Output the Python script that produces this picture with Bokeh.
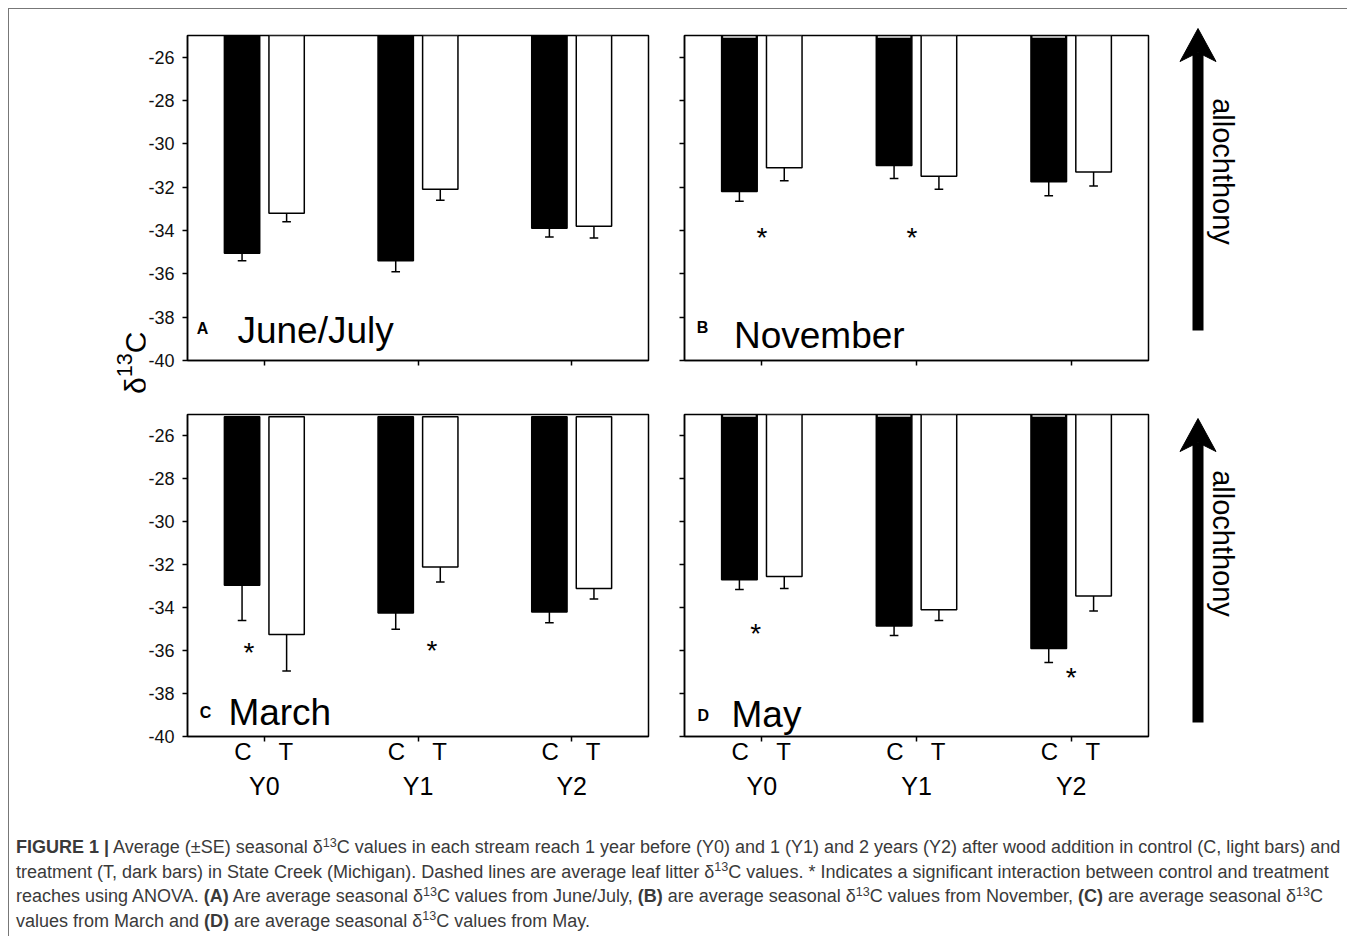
import numpy as np
from math import pi
from bokeh.plotting import figure
from bokeh.models import Range1d, LinearAxis, FixedTicker, Div
from bokeh.layouts import row, column
from bokeh.embed import file_html
from bokeh.resources import INLINE
from bokeh.core.properties import value

# ---------------- data ----------------
years = ["Y0", "Y1", "Y2"]
groups = ["C", "T"]
y_ticks = [-26, -28, -30, -32, -34, -36, -38, -40]

june_c = [-35.05, -35.4, -33.9]
june_c_se = [0.35, 0.5, 0.4]
june_t = [-33.2, -32.1, -33.8]
june_t_se = [0.4, 0.5, 0.55]

nov_c = [-32.2, -31.0, -31.75]
nov_c_se = [0.45, 0.6, 0.65]
nov_t = [-31.1, -31.5, -31.3]
nov_t_se = [0.6, 0.6, 0.65]

mar_c = [-32.95, -34.25, -34.2]
mar_c_se = [1.65, 0.75, 0.5]
mar_t = [-35.25, -32.1, -33.1]
mar_t_se = [1.7, 0.7, 0.5]

may_c = [-32.7, -34.85, -35.9]
may_c_se = [0.45, 0.45, 0.65]
may_t = [-32.55, -34.1, -33.45]
may_t_se = [0.55, 0.5, 0.7]

# significance asterisks (x position in year units, y value)
nov_star_x = [0.0, 0.97]
nov_star_y = [-34.3, -34.3]
mar_star_x = [-0.1, 1.09]
mar_star_y = [-36.1, -36.0]
may_star_x = [-0.04, 2.0]
may_star_y = [-35.2, -37.25]

FONT = "Liberation Sans"
OFF = 0.145
LBL_OFF = 0.14
BW = 0.23
CAP = 0.028


def make_panel(W, H, ml, mr, mt, mb, c_vals, c_se, t_vals, t_se,
               stars_x, stars_y, letter, letter_xy, month, month_xy,
               show_ylabels, show_xlabels, bar_top=-25.0, gray_top=False):
    p = figure(width=W, height=H, x_range=Range1d(-0.5, 2.5), y_range=Range1d(-40, -25),
               x_axis_type=None, y_axis_type=None, toolbar_location=None,
               output_backend="svg", min_border_left=ml, min_border_right=mr,
               min_border_top=mt, min_border_bottom=mb)
    p.outline_line_color = "black"
    p.outline_line_width = 1.5
    p.outline_line_alpha = 1.0
    p.background_fill_color = "white"
    p.border_fill_color = "white"

    # y axis
    yax = LinearAxis(ticker=FixedTicker(ticks=y_ticks))
    yax.axis_line_width = 1.5
    yax.major_tick_line_width = 1.5
    yax.major_tick_out = 5
    yax.major_tick_in = 0
    yax.minor_tick_line_color = None
    if show_ylabels:
        yax.major_label_overrides = {t: str(t) for t in y_ticks}
        yax.major_label_text_font = FONT
        yax.major_label_text_font_size = "18px"
        yax.major_label_text_color = "#111111"
        yax.major_label_standoff = 8
    else:
        yax.major_label_overrides = {t: "" for t in y_ticks}
        yax.major_label_text_font_size = "0px"
        yax.major_label_standoff = 0
    p.add_layout(yax, "left")

    # x axis (group ticks only)
    xax = LinearAxis(ticker=FixedTicker(ticks=[0, 1, 2]))
    xax.axis_line_width = 1.5
    xax.major_tick_line_width = 1.5
    xax.major_tick_out = 5
    xax.major_tick_in = 0
    xax.minor_tick_line_color = None
    xax.major_label_overrides = {0: "", 1: "", 2: ""}
    xax.major_label_text_font_size = "0px"
    xax.major_label_standoff = 0
    p.add_layout(xax, "below")

    if show_xlabels:
        pos = []
        ov = {}
        for i in range(len(years)):
            for g, s in zip(groups, (-LBL_OFF, LBL_OFF)):
                v = i + s
                pos.append(v)
                ov[v] = g
        ax2 = LinearAxis(ticker=FixedTicker(ticks=pos))
        ax2.major_label_overrides = ov
        ax2.axis_line_color = None
        ax2.major_tick_line_color = None
        ax2.minor_tick_line_color = None
        ax2.major_tick_out = 0
        ax2.major_tick_in = 0
        ax2.major_label_standoff = -4
        ax2.major_label_text_font = FONT
        ax2.major_label_text_font_size = "24px"
        ax2.major_label_text_color = "black"
        p.add_layout(ax2, "below")

        ax3 = LinearAxis(ticker=FixedTicker(ticks=[0, 1, 2]))
        ax3.major_label_overrides = {i: y for i, y in enumerate(years)}
        ax3.axis_line_color = None
        ax3.major_tick_line_color = None
        ax3.minor_tick_line_color = None
        ax3.major_tick_out = 0
        ax3.major_tick_in = 0
        ax3.major_label_standoff = 4
        ax3.major_label_text_font = FONT
        ax3.major_label_text_font_size = "25px"
        ax3.major_label_text_color = "black"
        p.add_layout(ax3, "below")

    xi = np.arange(len(years))
    xc = xi - OFF
    xt = xi + OFF
    c_vals = np.array(c_vals)
    t_vals = np.array(t_vals)
    c_lo = c_vals - np.array(c_se)
    t_lo = t_vals - np.array(t_se)

    # control bars (black) and treatment bars (white)
    p.vbar(x=xc, top=bar_top, bottom=c_vals, width=BW, fill_color="black",
           line_color="black", line_width=1.5)
    p.vbar(x=xt, top=bar_top, bottom=t_vals, width=BW, fill_color="white",
           line_color="black", line_width=1.5)
    if gray_top:
        p.segment(x0=xc - BW / 2 + 0.01, x1=xc + BW / 2 - 0.01, y0=bar_top - 0.07,
                  y1=bar_top - 0.07, line_color="#b0b0b0", line_width=2)

    # lower error bars
    for xs, v, lo in ((xc, c_vals, c_lo), (xt, t_vals, t_lo)):
        p.segment(x0=xs, x1=xs, y0=v, y1=lo, line_color="black", line_width=1.5)
        p.segment(x0=xs - CAP, x1=xs + CAP, y0=lo, y1=lo, line_color="black", line_width=1.5)

    if stars_x:
        p.text(x=stars_x, y=stars_y, text=["*"] * len(stars_x), text_font=value(FONT),
               text_font_size="28px", text_align="center", text_baseline="alphabetic",
               y_offset=0, text_color="black")

    p.text(x=[letter_xy[0]], y=[letter_xy[1]], text=[letter], text_font=value(FONT),
           text_font_size="16px", text_font_style="bold", text_align="left",
           text_baseline="alphabetic", y_offset=-6, text_color="black")
    p.text(x=[month_xy[0]], y=[month_xy[1]], text=[month], text_font=value(FONT),
           text_font_size="37px", text_align="left", text_baseline="alphabetic",
           y_offset=-12, text_color="black")
    return p


def arrow_fig(W, H, ax, y_tail, y_tip, ty):
    p = figure(width=W, height=H, x_range=Range1d(0, W), y_range=Range1d(H, 0),
               x_axis_type=None, y_axis_type=None, toolbar_location=None,
               output_backend="svg", min_border=0)
    p.outline_line_color = None
    head_w, head_l, notch = 36, 33, 24
    # shaft
    p.segment(x0=[ax], x1=[ax], y0=[y_tail], y1=[y_tip + notch], line_width=11,
              line_color="black", line_cap="butt")
    # arrow head (concave back)
    p.patch(x=[ax, ax + head_w / 2, ax, ax - head_w / 2],
            y=[y_tip, y_tip + head_l, y_tip + notch, y_tip + head_l],
            fill_color="black", line_color="black", line_width=1)
    p.text(x=[ax + 25], y=[ty], text=["allochthony"], angle=-pi / 2,
           text_font=value(FONT), text_font_size="29px", text_align="center",
           text_baseline="middle", text_color="black")
    return p


# left column panels (shared borders within each row)
fA = make_panel(522, 387, 41, 19, 26, 36, june_c, june_c_se, june_t, june_t_se,
                [], [], "A", (-0.44, -38.8), "June/July", (-0.175, -39.17),
                True, False)
fB = make_panel(494, 387, 17, 13, 26, 36, nov_c, nov_c_se, nov_t, nov_t_se,
                nov_star_x, nov_star_y, "B", (-0.42, -38.75), "November", (-0.18, -39.4),
                False, False, gray_top=True)
fC = make_panel(522, 410, 41, 19, 18, 70, mar_c, mar_c_se, mar_t, mar_t_se,
                mar_star_x, mar_star_y, "C", (-0.42, -39.17), "March", (-0.234, -39.45),
                True, True, bar_top=-25.1)
fD = make_panel(494, 410, 17, 13, 18, 70, may_c, may_c_se, may_t, may_t_se,
                may_star_x, may_star_y, "D", (-0.416, -39.3), "May", (-0.196, -39.55),
                False, True, gray_top=True)

fArrB = arrow_fig(186, 387, 36.5, 321, 19, 162)
fArrD = arrow_fig(186, 410, 36.5, 326, 22, 147)

ylab = Div(
    text=("<div style=\"padding-left:104px; padding-top:323px;\">"
          "<div style=\"writing-mode:vertical-rl; transform:rotate(180deg); height:62px; "
          "width:24px; line-height:24px; white-space:nowrap; font-family:'Liberation Sans', Arial, sans-serif; "
          "font-size:30px; color:black;\">δ<span style='font-size:72%; vertical-align:super;'>13</span>C</div></div>"),
    width=136, height=797, margin=0)

d13 = ("δ<span style='font-size:70%; position:relative; top:-0.5em; line-height:0;'>13</span>C")
caption_html = (
    "<div style=\"padding:29px 0 0 7px; font-family:'Liberation Sans', Arial, sans-serif; "
    "font-size:18px; line-height:24.5px; color:#3a3a3a; white-space:nowrap;\">"
    "<b>FIGURE 1 |</b> Average (±SE) seasonal " + d13 + " values in each stream reach 1 year before (Y0) "
    "and 1 (Y1) and 2 years (Y2) after wood addition in control (C, light bars) and<br>"
    "treatment (T, dark bars) in State Creek (Michigan). Dashed lines are average leaf litter " + d13 +
    " values. * Indicates a significant interaction between control and treatment<br>"
    "reaches using ANOVA. <b>(A)</b> Are average seasonal " + d13 + " values from June/July, "
    "<b>(B)</b> are average seasonal " + d13 + " values from November, <b>(C)</b> are average seasonal "
    + d13 + "<br>values from March and <b>(D)</b> are average seasonal " + d13 + " values from May.</div>"
)
cap = Div(text=caption_html, width=1338, height=130, margin=0)

left_col = column(row(fA, fB, spacing=0), row(fC, fD, spacing=0), spacing=0)
right_col = column(fArrB, fArrD, spacing=0)

layout = column(
    row(ylab, left_col, right_col, spacing=0),
    cap,
    spacing=0,
    styles={"border-left": "1px solid #777777", "border-top": "1px solid #777777",
            "margin-left": "8px", "margin-top": "8px"},
)

open("out.html", "w").write(file_html(layout, INLINE, title="Figure 1"))
